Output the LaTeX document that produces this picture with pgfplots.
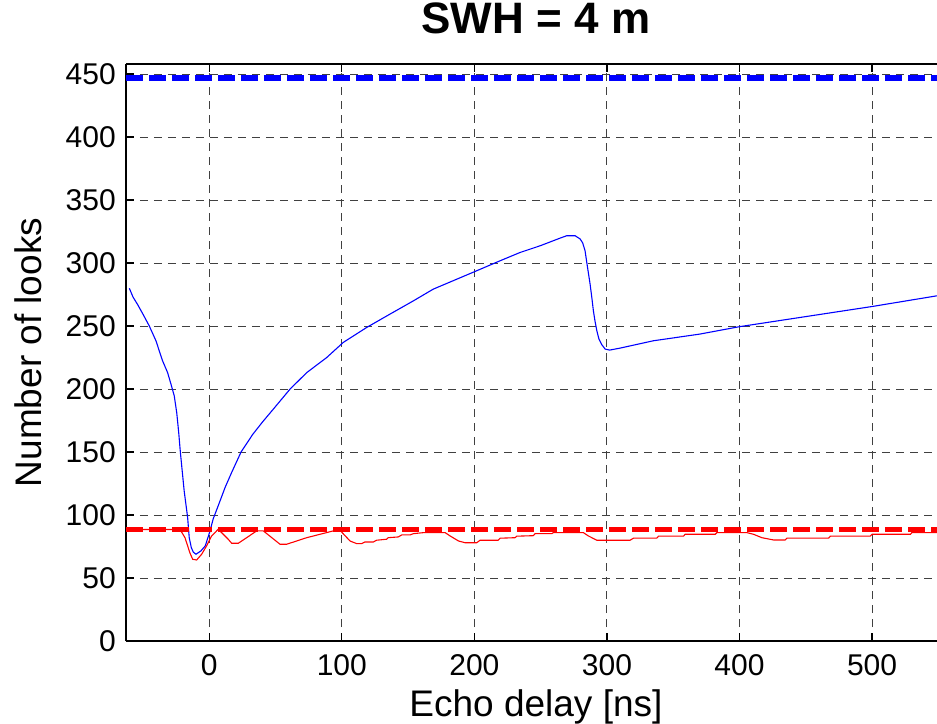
\documentclass[border=0pt]{standalone}
\usepackage{fontspec}
\setmainfont{Liberation Sans}
\usepackage{pgfplots}
\pgfplotsset{compat=1.18}
\begin{document}
\begin{tikzpicture}
\begin{axis}[name=ax, scale only axis, width=811pt, height=577pt,
 xmin=-62.8, xmax=549, ymin=0, ymax=458,
 xtick={0,100,...,500}, ytick={0,50,...,450},
 axis x line*=box, axis y line*=left,
 axis line style={black, line width=1.5pt},
 major tick length=8pt, tick style={black, line width=1.2pt},
 xmajorgrids, ymajorgrids,
 grid style={black!75, line width=1pt, dash pattern=on 8pt off 6pt},
 /pgf/number format/assume math mode=true,
 tick label style={font=\fontsize{30}{36}\selectfont},
 xticklabel style={anchor=base, yshift=-34pt},
 yticklabel style={anchor=east, inner sep=0pt, xshift=-10pt},
 title={SWH = 4 m},
 title style={font=\fontsize{44}{52}\selectfont\bfseries, at={(axis description cs:0.5055,1.0416)}, anchor=base},
 xlabel={Echo delay [ns]}, ylabel={Number of looks},
 label style={font=\fontsize{37}{44}\selectfont},
 xlabel style={at={(axis description cs:0.5055,-0.1317)}, anchor=base},
 ylabel style={at={(axis description cs:-0.1036,0.5)}, anchor=base},
]
% thin curves
\addplot[blue, line width=1.1pt] coordinates {
 (-60.3,280) (-57.5,273) (-54,267) (-50.3,260) (-45.3,250.2) (-40.2,238.3)
 (-37.7,230.3) (-35.2,222.4) (-31.4,213) (-28.9,204) (-26.4,194.6) (-24.5,181)
 (-23,165) (-21.8,150) (-18.9,119) (-16.3,98) (-15.1,82) (-13.5,74) (-12,70.5) (-10,68.9)
 (-6.3,71.5) (-3,75.5) (0.5,87) (3,97) (7,108) (12,122) (17,134) (24,150) (32.8,164)
 (40.3,174) (48.3,184) (61,200) (73.5,213) (88.6,225) (101.1,237) (118.8,248.9)
 (136.4,259.5) (154,270) (169,279.3) (201.8,293.9) (219.4,301.8) (234.5,308.4)
 (249.6,313.7) (264.7,319.8) (269.7,321.7) (276,321.7) (279.8,319.1) (281.7,316)
 (283.5,309.8) (284.8,300.5) (287.3,283.3) (288.6,272.7) (289.8,262) (291,254)
 (292.4,246.2) (294,239.6) (296.2,235.1) (298.7,231.7) (302,230.9) (310,232.5)
 (335,238.3) (370,243.6) (400,249.5) (450,257.5) (500,265.5) (549,274)
};
\addplot[red, line width=1.1pt] coordinates {
 (-60,88.5) (-22,88.5) (-18.3,82) (-14.6,70) (-12.5,64.9) (-9.5,64.3) (-5.7,68.9)
 (-2,75.5) (1.8,83.4) (6.8,88.7) (14.3,80.8) (16.9,77.6) (21.9,77.6) (28.2,82)
 (35.8,87.4) (40.8,87.4) (53.4,76.8) (58.4,76.8) (73.5,82) (93.6,87.4) (98.6,87.9)
 (106.2,79.4) (111.2,77.3) (115,77.3) (117.5,78.6) (123.8,78.6) (126.3,80) (133.9,80.8)
 (135,82) (142.6,82.6) (145.2,84.2) (151.5,84.2) (154,85.2) (161.5,86) (178,86)
 (181.7,83.4) (188,79.4) (193,78) (201.8,78) (204.3,80) (218,80) (219.4,81.6)
 (230.7,82) (232,83.2) (244.5,83.6) (245.8,85.2) (258.4,85.2) (259.6,86) (282.3,86)
 (286,83.4) (292.4,80) (317.5,80) (320,81.6) (337.6,81.6) (338.9,83.2) (357.7,83.2)
 (359,84.7) (381.7,84.7) (382.9,86) (405.6,86) (410.6,84.7) (416.9,82) (425.7,80.2)
 (434.5,80.2) (435.8,81.6) (467.2,81.6) (468.5,83.2) (498.6,83.2) (500,84.7)
 (529,84.7) (530,86) (549,86)
};
% thick dashed reference levels
\addplot[blue, line width=5.5pt, dash pattern=on 17pt off 6pt] coordinates {(-62.8,447) (549,447)};
\addplot[red, line width=5.5pt, dash pattern=on 17pt off 6pt] coordinates {(-62.8,88.5) (549,88.5)};
\end{axis}
\pgfresetboundingbox
\path ([shift={(-126pt,-82pt)}]ax.south west) rectangle ([shift={(0pt,64pt)}]ax.north east);
\end{tikzpicture}
\end{document}
